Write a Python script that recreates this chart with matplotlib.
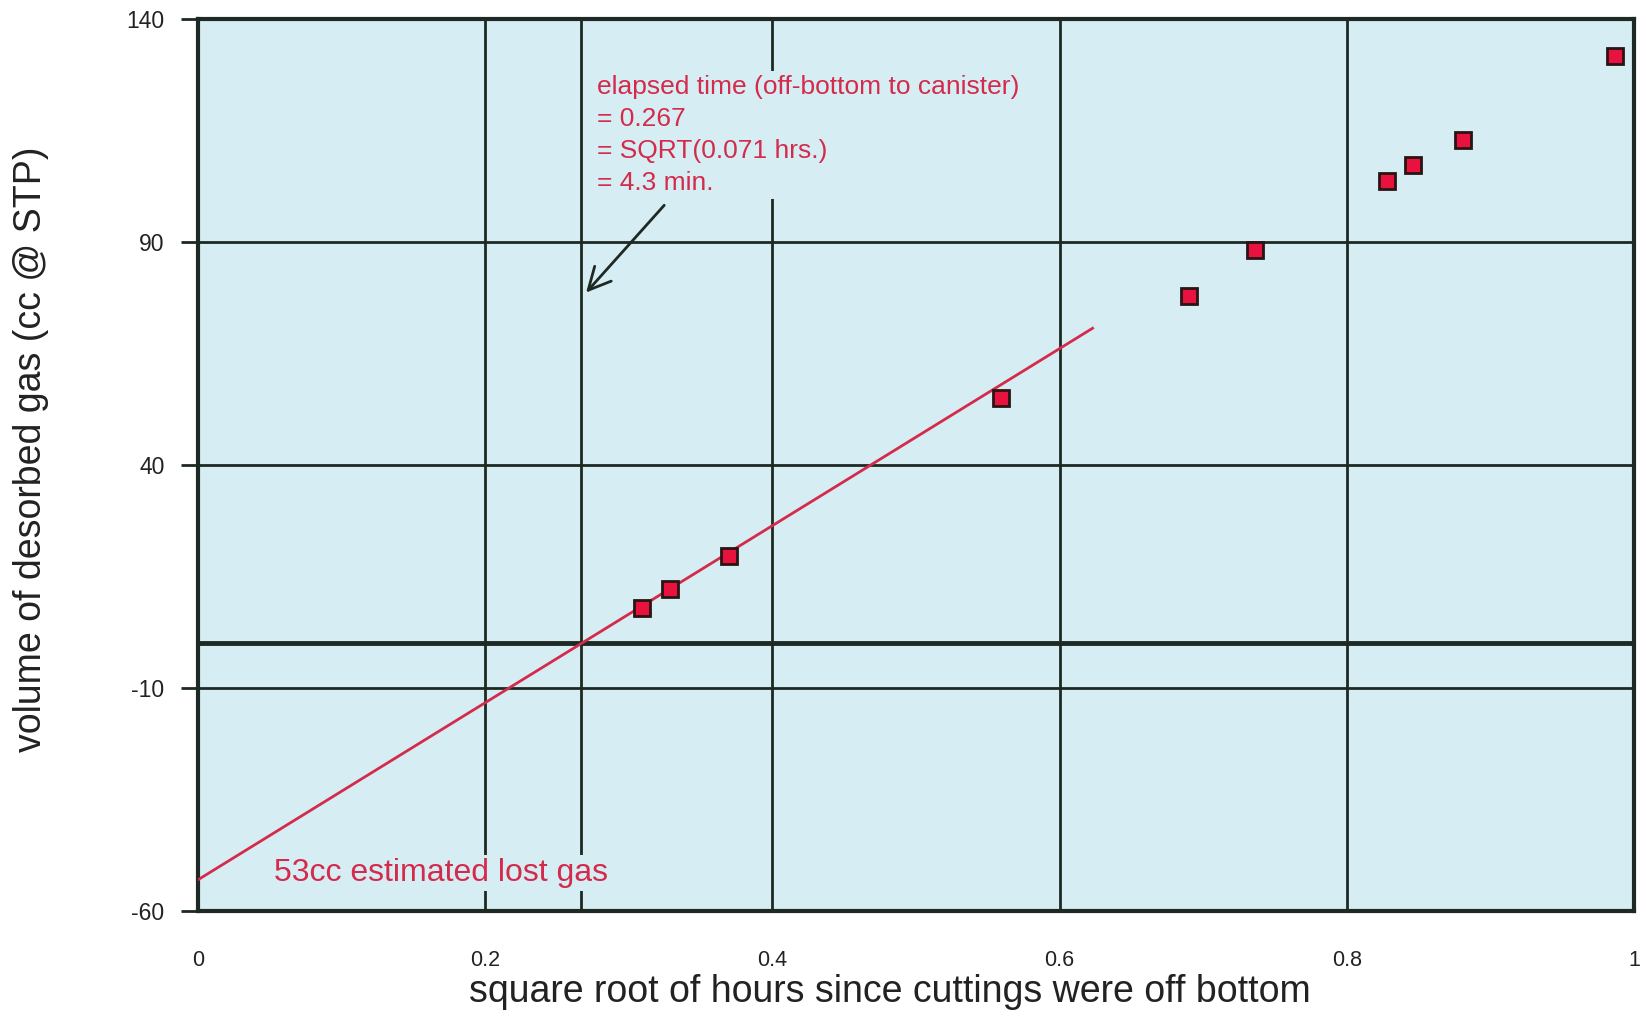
import numpy as np
import matplotlib.pyplot as plt

plt.rcParams['font.family'] = ['Liberation Sans', 'DejaVu Sans']

# measured points
sqrt_hours = [0.309, 0.329, 0.370, 0.559, 0.690, 0.736, 0.828, 0.846, 0.881, 0.987]
gas_cc = [7.9, 12.2, 19.5, 55.1, 78.0, 88.3, 103.7, 107.2, 112.9, 131.7]

# lost gas regression line
fit_x = [0.0, 0.623]
fit_intercept = -53
fit_slope = 198.5
fit_y = [fit_intercept + fit_slope * x for x in fit_x]

elapsed = 0.267

xticks = [0, 0.2, 0.4, 0.6, 0.8, 1]
xticklabels = ['0', '0.2', '0.4', '0.6', '0.8', '1']
yticks = [-60, -10, 40, 90, 140]
yticklabels = ['-60', '-10', '40', '90', '140']

bg = '#d6eef3'
red = '#d42a4c'
dark = '#1e2924'

fig = plt.figure(figsize=(16.48, 10.21), dpi=100)
ax = fig.add_axes([0.1201, 0.1077, 0.8714, 0.8737])
ax.set_facecolor(bg)

ax.set_xlim(0, 1)
ax.set_ylim(-60, 140)

# grid
for x in xticks[1:-1]:
    ax.axvline(x, color=dark, lw=2, zorder=1)
for y in yticks[1:-1]:
    ax.axhline(y, color=dark, lw=2, zorder=1)
ax.axhline(0, color=dark, lw=3.5, zorder=1)
ax.axvline(elapsed, color=dark, lw=2, zorder=1)

ax.plot(fit_x, fit_y, color=red, lw=2, zorder=3)
ax.plot(sqrt_hours, gas_cc, 's', ms=12, mfc='#e8123f', mec='#2a1414', mew=2, zorder=4)

ax.text(0.278, 127.5, 'elapsed time (off-bottom to canister)\n= 0.267\n= SQRT(0.071 hrs.)\n= 4.3 min.',
        color=red, fontsize=19, va='top', ha='left', linespacing=1.42, zorder=2,
        bbox=dict(facecolor=bg, edgecolor='none', pad=3))
ax.annotate('', xy=(0.269, 78.2), xytext=(0.326, 98.7),
            arrowprops=dict(arrowstyle='->', color=dark, lw=2, mutation_scale=40), zorder=5)

ax.text(0.053, -51.5, '53cc estimated lost gas', color=red, fontsize=23,
        va='center', ha='left', zorder=2,
        bbox=dict(facecolor=bg, edgecolor='none', pad=2))

ax.set_xticks(xticks)
ax.set_xticklabels(xticklabels)
ax.set_yticks(yticks)
ax.set_yticklabels(yticklabels)
ax.tick_params(axis='x', length=0, pad=28, labelsize=15.5, colors='#222222')
ax.tick_params(axis='y', length=12, width=2, pad=12, labelsize=16.5, colors='#222222')
ax.tick_params(axis='y', color=dark)

for s in ax.spines.values():
    s.set_linewidth(3)
    s.set_color(dark)

ax.set_xlabel('square root of hours since cuttings were off bottom', fontsize=27, color='#222222', va='center')
ax.set_ylabel('volume of desorbed gas (cc @ STP)', fontsize=27, color='#222222', va='center')
ax.xaxis.set_label_coords(0.482, -0.0908)
ax.yaxis.set_label_coords(-0.116, 0.518)

fig.savefig('out.png', dpi=100, facecolor='white')
